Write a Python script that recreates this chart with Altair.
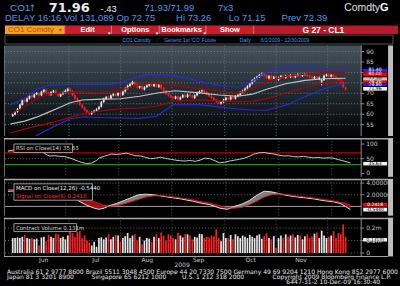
import altair as alt
import pandas as pd

# ---------------- data ----------------
opens = [59.2, 59.9, 61.1, 62.6, 64.4, 66.9, 66.1, 67.4, 68.9, 68.1,
         69.5, 70.2, 69.1, 70.7, 71.7, 70.3, 69.2, 70.6, 71.3, 69.9,
         68.6, 69.7, 70.3, 71.2, 72.1, 71.1, 69.1, 67.5, 66.1, 64.5,
         63.3, 61.9, 60.8, 60.1, 61.1, 61.5, 62.5, 63.6, 65.9, 67.3,
         68.3, 67.5, 69.0, 69.7, 68.9, 70.1, 69.2, 70.9, 72.3, 73.5,
         74.5, 75.5, 74.3, 72.7, 73.5, 71.9, 73.0, 73.7, 74.6, 73.5,
         74.4, 73.1, 74.0, 72.5, 71.3, 69.9, 69.0, 68.2, 67.5, 68.5,
         67.1, 68.1, 69.2, 68.2, 69.5, 68.9, 67.8, 69.1, 70.2, 71.0,
         71.5, 70.7, 69.6, 68.8, 67.9, 67.0, 66.0, 65.1, 65.9, 66.8,
         67.9, 67.1, 68.4, 67.5, 68.7, 69.1, 70.5, 71.1, 72.4, 73.3,
         74.7, 76.1, 77.2, 77.8, 78.9, 79.5, 78.7, 77.2, 78.3, 76.8,
         77.9, 76.5, 77.6, 78.4, 77.5, 78.5, 77.8, 78.8, 77.7, 78.6,
         79.2, 78.3, 79.0, 79.3, 78.4, 78.0, 77.1, 77.9, 76.8, 75.6,
         76.4, 78.5, 79.0, 78.1, 78.8, 78.0, 77.1, 76.5, 75.3, 72.75]
highs = [60.3, 61.5, 63.0, 65.0, 67.3, 67.4, 68.0, 69.3, 69.3, 69.9,
         70.6, 70.6, 71.2, 72.1, 72.2, 70.8, 71.0, 71.7, 71.8, 70.3,
         70.1, 70.9, 71.8, 72.6, 72.5, 71.6, 69.5, 68.0, 66.5, 65.0,
         63.7, 62.3, 61.3, 61.5, 62.1, 62.9, 64.0, 66.3, 67.9, 68.7,
         68.8, 69.4, 70.1, 70.2, 70.5, 70.6, 71.3, 72.9, 74.1, 74.9,
         76.0, 75.9, 74.7, 73.9, 73.9, 73.4, 74.3, 75.0, 75.0, 74.8,
         74.8, 74.4, 74.4, 72.9, 71.7, 70.3, 69.4, 68.6, 68.9, 68.9,
         68.5, 69.6, 69.6, 69.9, 69.9, 69.3, 69.5, 70.8, 71.4, 71.9,
         71.9, 71.1, 70.0, 69.2, 68.3, 67.4, 66.4, 66.3, 67.4, 68.3,
         68.3, 68.8, 68.8, 69.1, 69.7, 70.9, 71.7, 72.8, 73.9, 75.1,
         76.7, 77.6, 78.4, 79.3, 79.9, 79.9, 79.1, 78.7, 78.7, 78.3,
         78.3, 78.0, 78.8, 78.8, 78.9, 78.9, 79.2, 79.2, 79.0, 79.6,
         79.7, 79.4, 79.7, 79.7, 78.8, 78.4, 78.3, 78.3, 78.0, 76.8,
         78.9, 79.4, 79.4, 79.2, 79.2, 78.4, 77.5, 76.9, 75.7, 73.26]
lows = [58.7, 59.5, 60.7, 62.2, 64.0, 65.6, 65.7, 67.0, 67.7, 67.7,
        69.1, 68.5, 68.7, 70.3, 69.8, 68.8, 68.8, 70.1, 69.4, 68.2,
        68.2, 69.2, 69.9, 70.8, 70.7, 68.6, 66.9, 65.6, 64.1, 62.7,
        61.3, 60.4, 59.6, 59.7, 60.7, 61.1, 62.1, 63.2, 65.4, 66.8,
        67.1, 67.1, 68.5, 68.5, 68.5, 68.8, 68.8, 70.4, 71.8, 73.0,
        74.0, 73.7, 72.2, 72.2, 71.5, 71.4, 72.5, 73.2, 73.1, 73.0,
        72.7, 72.6, 71.9, 70.7, 69.3, 68.4, 67.6, 67.1, 67.1, 66.7,
        66.6, 67.6, 67.8, 67.8, 68.3, 67.4, 67.3, 68.6, 69.7, 70.5,
        70.1, 69.0, 68.2, 67.3, 66.4, 65.4, 64.7, 64.6, 65.4, 66.3,
        66.7, 66.6, 67.1, 67.0, 68.2, 68.6, 70.0, 70.6, 71.9, 72.8,
        74.2, 75.6, 76.7, 77.3, 78.4, 78.1, 76.8, 76.7, 76.4, 76.3,
        76.1, 76.0, 77.1, 77.1, 77.0, 77.4, 77.3, 77.3, 77.2, 78.1,
        77.9, 77.8, 78.5, 77.8, 77.4, 76.7, 76.6, 76.4, 76.3, 73.8,
        75.9, 78.0, 77.7, 77.6, 77.4, 76.5, 75.9, 74.7, 72.6, 71.15]
closes = [59.8, 61.0, 62.5, 64.5, 66.8, 66.0, 67.5, 68.8, 68.2, 69.4,
          70.1, 69.0, 70.8, 71.6, 70.2, 69.3, 70.5, 71.2, 69.8, 68.7,
          69.6, 70.4, 71.3, 72.0, 71.2, 69.0, 67.4, 66.0, 64.6, 63.2,
          61.8, 60.9, 60.2, 61.0, 61.6, 62.4, 63.5, 65.8, 67.4, 68.2,
          67.6, 68.9, 69.6, 69.0, 70.0, 69.3, 70.8, 72.4, 73.6, 74.4,
          75.4, 74.2, 72.8, 73.4, 72.0, 72.9, 73.8, 74.5, 73.6, 74.3,
          73.2, 73.9, 72.4, 71.2, 69.8, 68.9, 68.1, 67.6, 68.4, 67.2,
          68.0, 69.1, 68.3, 69.4, 68.8, 67.9, 69.0, 70.3, 70.9, 71.4,
          70.6, 69.5, 68.7, 67.8, 66.9, 65.9, 65.2, 65.8, 66.9, 67.8,
          67.2, 68.3, 67.6, 68.6, 69.2, 70.4, 71.2, 72.3, 73.4, 74.6,
          76.2, 77.1, 77.9, 78.8, 79.4, 78.6, 77.3, 78.2, 76.9, 77.8,
          76.6, 77.5, 78.3, 77.6, 78.4, 77.9, 78.7, 77.8, 78.5, 79.1,
          78.4, 78.9, 79.2, 78.3, 77.9, 77.2, 77.8, 76.9, 77.5, 76.3,
          78.4, 78.9, 78.2, 78.7, 77.9, 77.0, 76.4, 75.2, 73.1, 71.96]
volumes = [0.12, 0.12, 0.125, 0.12, 0.13, 0.145, 0.12, 0.115, 0.12, 0.11,
           0.115, 0.06, 0.125, 0.13, 0.095, 0.145, 0.13, 0.12, 0.155, 0.15,
           0.12, 0.13, 0.11, 0.14, 0.18, 0.16, 0.13, 0.17, 0.175, 0.12,
           0.14, 0.10, 0.085, 0.06, 0.09, 0.05, 0.12, 0.125, 0.11, 0.125,
           0.15, 0.11, 0.13, 0.145, 0.14, 0.09, 0.12, 0.135, 0.16, 0.12,
           0.14, 0.15, 0.10, 0.13, 0.07, 0.10, 0.12, 0.115, 0.09, 0.13,
           0.15, 0.12, 0.165, 0.14, 0.10, 0.15, 0.14, 0.12, 0.11, 0.16,
           0.14, 0.125, 0.15, 0.15, 0.14, 0.11, 0.13, 0.125, 0.155, 0.15,
           0.12, 0.13, 0.125, 0.14, 0.135, 0.19, 0.12, 0.095, 0.16, 0.12,
           0.12, 0.145, 0.11, 0.15, 0.135, 0.12, 0.14, 0.13, 0.12, 0.145,
           0.13, 0.12, 0.14, 0.15, 0.115, 0.135, 0.16, 0.12, 0.11, 0.135,
           0.04, 0.12, 0.14, 0.12, 0.15, 0.13, 0.14, 0.15, 0.125, 0.145,
           0.14, 0.11, 0.135, 0.15, 0.12, 0.13, 0.155, 0.165, 0.12, 0.18,
           0.14, 0.12, 0.13, 0.14, 0.175, 0.12, 0.16, 0.15, 0.23, 0.131]

white_idx = [-1, 5, 10, 15, 20, 24, 29, 37, 45, 53, 61, 68, 78, 86, 94, 100, 106, 114, 122, 130, 139]
white_val = [55.3, 56.7, 58.6, 61.0, 63.5, 65.5, 66.8, 67.2, 67.4, 68.6, 70.3, 71.2, 70.2, 69.2, 68.6, 69.6, 71.9, 74.6, 76.2, 77.0, 77.2]
redup_idx = [-1, 5, 10, 15, 24, 29, 35, 41, 45, 50, 55, 60, 66, 72, 78, 86, 94, 100, 106, 114, 122, 130, 139]
redup_val = [60.0, 63.5, 67.5, 69.6, 70.5, 70.7, 70.2, 70.8, 71.4, 73.2, 74.5, 75.0, 74.3, 73.0, 72.2, 71.2, 70.0, 72.2, 75.7, 78.1, 79.1, 80.0, 80.0]
redlo_idx = [-1, 5, 10, 17, 24, 30, 37, 45, 53, 60, 67, 78, 86, 94, 100, 106, 114, 122, 130, 139]
redlo_val = [51.0, 52.9, 54.3, 56.2, 58.5, 60.5, 61.6, 62.6, 63.0, 63.8, 66.2, 66.8, 66.4, 66.0, 66.2, 67.4, 70.2, 72.8, 75.0, 76.2]
blueup_idx = [-1, 5, 10, 15, 24, 30, 41, 45, 50, 55, 59, 67, 72, 78, 86, 94, 100, 106, 114, 122, 130, 139]
blueup_val = [64.5, 67.5, 71.9, 73.8, 74.2, 74.3, 74.3, 75.2, 77.2, 78.6, 79.2, 78.6, 77.5, 75.7, 73.8, 72.9, 75.7, 80.5, 82.9, 82.9, 81.4, 81.4]
bluelo_idx = [5, 10, 17, 24, 30, 37, 45, 53, 60, 67, 78, 86, 94, 100, 106, 114, 122, 130, 139]
bluelo_val = [46.0, 49.8, 54.0, 57.8, 58.8, 58.4, 58.2, 58.0, 59.0, 64.5, 64.6, 63.5, 62.5, 62.0, 61.9, 64.3, 68.4, 72.2, 74.8]

rsi_idx = [0, 2, 4, 6, 8, 10, 12, 14, 16, 17, 19, 21, 23, 24, 26, 28, 30, 32, 33, 34,
           36, 37, 39, 41, 42, 44, 46, 48, 49, 50, 52, 54, 56, 58, 60, 62, 64, 66, 68, 70,
           72, 74, 76, 78, 80, 82, 84, 86, 88, 90, 92, 94, 96, 98, 100, 102, 104, 106, 108, 110,
           112, 114, 116, 118, 120, 122, 124, 126, 128, 130, 132, 134, 136, 138, 139]
rsi_val = [76, 79, 78, 77, 76, 77, 76, 73, 62, 59, 60, 58, 57, 55, 50, 43, 37, 33, 34, 35,
           44, 52, 58, 63, 66, 64, 66, 69, 67, 64, 60, 59, 54, 50, 52, 55, 51, 48, 45, 43,
           42, 44, 41, 45, 52, 50, 43, 36, 38, 42, 45, 48, 52, 58, 66, 70, 71, 68, 66, 62,
           59, 60, 57, 56, 58, 55, 53, 54, 52, 53, 52, 47, 43, 38, 35.63]

macd_idx = [0, 5, 10, 15, 20, 24, 28, 32, 35, 37, 39, 41, 44, 47, 50, 53, 56, 59, 62, 65,
            70, 75, 78, 82, 86, 89, 92, 95, 98, 101, 104, 107, 110, 113, 116, 120, 124, 128, 132, 135,
            137, 139]
macd_val = [2.6, 2.7, 2.9, 2.7, 2.3, 1.9, 1.1, 0.2, -0.3, -0.5, -0.3, 0.1, 0.5, 1.0, 1.5, 2.0, 2.1, 2.0, 1.8, 1.6,
            1.3, 0.9, 0.6, 0.3, -0.3, -0.5, 0.0, 0.4, 1.0, 1.9, 2.6, 2.5, 2.2, 1.9, 1.7, 1.5, 1.3, 1.0, 0.8, 0.5,
            0.0, -0.544]
signal_val = [2.9, 2.85, 2.8, 2.8, 2.6, 2.3, 1.9, 1.3, 0.8, 0.5, 0.2, 0.0, 0.1, 0.4, 0.8, 1.2, 1.6, 1.8, 1.85, 1.75,
              1.45, 1.15, 0.85, 0.55, 0.1, -0.2, -0.3, -0.15, 0.3, 0.9, 1.6, 2.0, 2.15, 2.05, 1.85, 1.65, 1.45, 1.2, 0.95, 0.7,
              0.5, 0.2418]

month_bounds = [23.5, 45.0, 66.5, 88.5, 110.0, 131.5]
month_centers = [12.9, 34.7, 56.2, 77.6, 99.4, 120.4]
month_names = ["Jun", "Jul", "Aug", "Sep", "Oct", "Nov"]
price_ticks = [55, 60, 65, 70, 75, 80, 85, 90]
price_labels = ["55", "60", "65", "70", "75", "80", "85", "90"]
rsi_ticks = [0, 50, 100]
rsi_labels = ["0", "50", "100"]
rsi_levels = [70, 30]
macd_ticks = [2, 4]
macd_labels = ["2.00000", "4.00000"]
vol_ticks = [0, 0.1, 0.2]
vol_labels = ["0", "0.1m", "0.2m"]

# ---------------- style ----------------
FONT = "DejaVu Sans"
HFONT = "Liberation Sans"
LABEL = "#c8c8c8"
AXG = "#8c8c8c"
BLUE_TXT = "#4a98f0"
W = 363
xscale = alt.Scale(domain=[-3.23, 143.43], nice=False, zero=False)
one = alt.Data(values=[{"k": 1}])

cdf = pd.DataFrame({"i": list(range(len(closes))), "open": opens, "high": highs,
                    "low": lows, "close": closes, "vol": volumes})
cdf["dir"] = ["up" if c >= o else "down" for o, c in zip(opens, closes)]
dir_scale = alt.Scale(domain=["up", "down"], range=["#e6e6e6", "#ff1c1c"])


def xq(field="i"):
    return alt.X(f"{field}:Q", scale=xscale, axis=None)


def box(x0, x1, y0, y1, fill, stroke=None, sw=1):
    kw = dict(fill=fill)
    if stroke:
        kw.update(stroke=stroke, strokeWidth=sw)
    return alt.Chart(one).mark_rect(**kw).encode(
        x=alt.value(x0), x2=alt.value(x1), y=alt.value(y0), y2=alt.value(y1))


def label(txt, x, y, color, size, font=FONT, align="left", weight="normal"):
    return alt.Chart(one).mark_text(text=txt, align=align, baseline="middle", color=color,
                                    fontSize=size, font=font, fontWeight=weight).encode(
        x=alt.value(x), y=alt.value(y))


def right_axis(ticks, labels, yscale, h):
    df = pd.DataFrame({"v": ticks, "lab": labels})
    ticks_l = alt.Chart(df).mark_rule(color=AXG, strokeWidth=1).encode(
        y=alt.Y("v:Q", scale=yscale, axis=None), x=alt.value(363), x2=alt.value(366))
    labs = alt.Chart(df).mark_text(align="left", baseline="middle", color=LABEL, fontSize=6,
                                   font=FONT).encode(
        y=alt.Y("v:Q", scale=yscale, axis=None), x=alt.value(368), text="lab:N")
    return [box(362.5, 363.5, 0, h, AXG), ticks_l, labs]


def hrule(vals, yscale, color, dash=None, sw=1):
    kw = dict(color=color, strokeWidth=sw)
    if dash:
        kw["strokeDash"] = dash
    return alt.Chart(pd.DataFrame({"v": vals})).mark_rule(**kw).encode(
        y=alt.Y("v:Q", scale=yscale, axis=None), x=alt.value(5), x2=alt.value(W))


def vgrid(color="#555555"):
    return alt.Chart(pd.DataFrame({"i": month_bounds})).mark_rule(
        color=color, strokeDash=[1, 2], strokeWidth=1).encode(x=xq())


def chrome(h, sep=True):
    layers = [box(4, 5, 0, h, "#6e6e6e"), box(390, 395, 0, h, "#bdbdbd")]
    if sep:
        layers.append(box(4, 390, 0, 1.5, "#a8a8a8"))
    return layers


def vbox(y0, y1, fill, txt, tcolor):
    return [box(365, 389, y0, y1, fill), label(txt, 377, (y0 + y1) / 2, tcolor, 4.6, align="center")]


def line(idxs, vals, color, yscale, sw=1.1):
    df = pd.DataFrame({"i": idxs, "v": vals})
    return alt.Chart(df).mark_line(color=color, strokeWidth=sw, clip=True).encode(
        x=xq(), y=alt.Y("v:Q", scale=yscale, axis=None))


# ---------------- header ----------------
header = alt.layer(
    label("CO1", 10, 7.5, BLUE_TXT, 10, HFONT),
    label("↑", 29, 7.5, BLUE_TXT, 9),
    label("71.96", 49, 7.5, "#eeeeee", 13, FONT, weight="bold"),
    label("-.43", 101, 8, "#eeeeee", 9.5, HFONT),
    label("71.93/71.99", 145, 7.5, BLUE_TXT, 9.5, HFONT),
    label("7x3", 219, 7.5, BLUE_TXT, 9.5, HFONT),
    label("Comdty", 382, 7.5, "#e0e0e0", 10.5, HFONT, align="right"),
    label("G", 382, 7.5, "#ffffff", 11, HFONT, weight="bold"),
    label("DELAY 16:16 Vol 131,089 Op 72.75", 5, 17.5, BLUE_TXT, 9.5, HFONT),
    label("Hi 73.26", 177, 17.5, BLUE_TXT, 9.5, HFONT),
    label("Lo 71.15", 230, 17.5, BLUE_TXT, 9.5, HFONT),
    label("Prev 72.39", 283, 17.5, BLUE_TXT, 9.5, HFONT),
    box(5, 65, 25, 33.5, "#f3a21f"),
    box(65, 255, 25, 33.5, "#c91f2c"),
    box(255, 400, 25, 33.5, "#b71a29"),
    box(64.5, 65.5, 25, 33.5, "#e8707a"),
    box(111.5, 112.5, 25, 33.5, "#e8707a"),
    box(159.5, 160.5, 25, 33.5, "#e8707a"),
    box(206.5, 207.5, 25, 33.5, "#e8707a"),
    box(254.5, 255.5, 25, 33.5, "#e8707a"),
    label("CO1 Comdty", 8, 29.3, "#c4420e", 8, HFONT),
    label("▾", 59, 29.5, "#c4420e", 6),
    label("Edit", 88, 29.3, "#ffffff", 7.5, HFONT, align="center", weight="bold"),
    label("Options", 136, 29.3, "#ffffff", 7.5, HFONT, align="center", weight="bold"),
    label("Bookmarks", 182.5, 29.3, "#ffffff", 7.5, HFONT, align="center", weight="bold"),
    label("Show", 231, 29.3, "#ffffff", 7.5, HFONT, align="center", weight="bold"),
    label("G 27 - CL1", 325, 29.3, "#ffffff", 8.5, HFONT, align="center", weight="bold"),
    label("▾", 108.5, 32, "#ffffff", 5),
    label("▾", 156.5, 32, "#ffffff", 5),
    label("▾", 204.5, 32, "#ffffff", 5),
    box(5, 395, 34.5, 43.5, "#000000", stroke="#555555"),
    label("CO1 Comdty", 123, 39, BLUE_TXT, 5, HFONT),
    label(":", 157, 39, BLUE_TXT, 5, HFONT),
    label("Generic 1st 'CO' Future", 165, 39, BLUE_TXT, 5, HFONT),
    label("Daily", 241, 39, BLUE_TXT, 5, HFONT),
    label("6/1/2009 - 12/30/2009", 262, 39, BLUE_TXT, 5, HFONT),
).properties(width=400, height=44)

# ---------------- price panel ----------------
H1 = 91
pscale = alt.Scale(domain=[49.55, 92.88], nice=False, zero=False)
grad = alt.Gradient(gradient="linear",
                    stops=[alt.GradientStop(color="#46535d", offset=0),
                           alt.GradientStop(color="#1e272d", offset=0.55),
                           alt.GradientStop(color="#030405", offset=1)],
                    x1=0, x2=0, y1=0, y2=1)
bg = alt.Chart(one).mark_rect(fill=grad).encode(
    x=alt.value(5), x2=alt.value(W), y=alt.value(0), y2=alt.value(H1))
wicks = alt.Chart(cdf).mark_rule(strokeWidth=1).encode(
    x=xq(), y=alt.Y("low:Q", scale=pscale, axis=None), y2="high:Q",
    color=alt.Color("dir:N", scale=dir_scale, legend=None))
bodies = alt.Chart(cdf).mark_bar(width=1.8).encode(
    x=xq(), y=alt.Y("open:Q", scale=pscale, axis=None), y2="close:Q",
    color=alt.Color("dir:N", scale=dir_scale, legend=None))
price_layers = [bg, hrule(price_ticks, pscale, "#707a82", [1, 2]), vgrid("#66717a"), wicks, bodies,
                line(blueup_idx, blueup_val, "#2a2ad8", pscale),
                line(bluelo_idx, bluelo_val, "#2a2ad8", pscale),
                line(redup_idx, redup_val, "#b40000", pscale),
                line(redlo_idx, redlo_val, "#b40000", pscale),
                line(white_idx, white_val, "#c4c4c4", pscale)]
price_layers += chrome(H1, sep=False)
price_layers += right_axis(price_ticks, price_labels, pscale, H1)
price_layers += vbox(23.5, 26.5, "#1f1fff", f"{blueup_val[-1]:.2f}", "#ffffff")
price_layers += vbox(27, 31, "#ee0000", f"{redup_val[-1]:.2f}", "#ffffff")
price_layers += vbox(32, 35.3, "#c8c8c8", f"{white_val[-1]:.2f}", "#000000")
price_layers += vbox(35.5, 38, "#ee0000", f"{redlo_val[-1]:.2f}", "#ffffff")
price_layers += vbox(38.2, 40.5, "#1f1fff", f"{bluelo_val[-1]:.2f}", "#ffffff")
price_layers += vbox(41.7, 45.3, "#f2f2f2", f"{closes[-1]:.2f}", "#000000")
price = alt.layer(*price_layers).properties(width=W, height=H1)

# ---------------- RSI panel ----------------
H2 = 39
rscale = alt.Scale(domain=[-11.9, 120.3], nice=False, zero=False)
rdf = pd.DataFrame({"i": rsi_idx, "rsi": rsi_val})
rsi_fill = alt.Chart(rdf).transform_calculate(
    top="max(datum.rsi, 70)", base="70").mark_area(color="#c01010", opacity=0.85).encode(
    x=xq(), y=alt.Y("top:Q", scale=rscale, axis=None), y2="base:Q")
rsi_line = alt.Chart(rdf).mark_line(color="#c8c8c8", strokeWidth=1).encode(
    x=xq(), y=alt.Y("rsi:Q", scale=rscale, axis=None))
rsi_layers = [hrule([50], rscale, "#5f676d", [1, 2]), vgrid(),
              hrule(rsi_levels[:1], rscale, "#c00000", sw=1.3),
              hrule(rsi_levels[1:], rscale, "#00a000", sw=1.3),
              rsi_fill, rsi_line,
              box(14, 73, 6, 14.5, "#050505", stroke="#9a9a9a"),
              label(f"RSI on Close(14)  {rsi_val[-1]:.2f}", 16, 10.3, "#d0d0d0", 5.5)]
rsi_layers += chrome(H2)
rsi_layers += right_axis(rsi_ticks, rsi_labels, rscale, H2)
rsi_layers += vbox(24, 27.5, "#f2f2f2", f"{rsi_val[-1]:.2f}", "#000000")
rsi = alt.layer(*rsi_layers).properties(width=W, height=H2)

# ---------------- MACD panel ----------------
H3 = 37
mscale = alt.Scale(domain=[-1.59, 4.735], nice=False, zero=False)
mdf = pd.DataFrame({"i": macd_idx, "m": macd_val, "s": signal_val})
grey_fill = alt.Chart(mdf).transform_calculate(hi="max(datum.m, datum.s)").mark_area(
    color="#8c8c8c", opacity=0.9).encode(x=xq(), y=alt.Y("hi:Q", scale=mscale, axis=None), y2="s:Q")
red_fill = alt.Chart(mdf).transform_calculate(lo="min(datum.m, datum.s)").mark_area(
    color="#b01010", opacity=0.9).encode(x=xq(), y=alt.Y("lo:Q", scale=mscale, axis=None), y2="s:Q")
m_line = alt.Chart(mdf).mark_line(color="#e0e0e0", strokeWidth=1).encode(
    x=xq(), y=alt.Y("m:Q", scale=mscale, axis=None))
s_line = alt.Chart(mdf).mark_line(color="#e01010", strokeWidth=1).encode(
    x=xq(), y=alt.Y("s:Q", scale=mscale, axis=None))
macd_layers = [hrule(macd_ticks, mscale, "#5f676d", [1, 2]), vgrid(),
               hrule([0], mscale, "#a0a0a0"), grey_fill, red_fill, m_line, s_line,
               box(14, 93, 5, 21.5, "#050505", stroke="#9a9a9a"),
               label(f"MACD on Close(12,26)  {macd_val[-1]:.4f}", 16, 9.6, "#e8e8e8", 5.5),
               label(f"Signal on Close(9)  {signal_val[-1]:.4f}", 16, 17, "#ff2020", 5.5)]
macd_layers += chrome(H3)
macd_layers += right_axis(macd_ticks, macd_labels, mscale, H3)
macd_layers += vbox(24.3, 28, "#ee0000", f"{signal_val[-1]:.4f}", "#ffffff")
macd_layers += vbox(29, 32.8, "#f2f2f2", f"{macd_val[-1]:.4f}", "#000000")
macd = alt.layer(*macd_layers).properties(width=W, height=H3)

# ---------------- volume panel ----------------
H4 = 39
vscale = alt.Scale(domain=[-0.028, 0.284], nice=False, zero=False)
vbars = alt.Chart(cdf).transform_calculate(z="0").mark_bar(width=1.7).encode(
    x=xq(), y=alt.Y("vol:Q", scale=vscale, axis=None),
    y2="z:Q", color=alt.Color("dir:N", scale=dir_scale, legend=None))
month_text = alt.Chart(pd.DataFrame({"i": month_centers, "lab": month_names})).mark_text(
    align="center", baseline="middle", color=LABEL, fontSize=6, font=FONT).encode(
    x=xq(), y=alt.value(H4 + 3.2), text="lab:N")
vol_layers = [hrule(vol_ticks, vscale, "#5f676d", [1, 2]), vgrid(), vbars,
              box(14, 77, 6, 14, "#050505", stroke="#9a9a9a"),
              label(f"Contract Volume  {volumes[-1]:.3f}m", 16, 10.2, "#d0d0d0", 5.5)]
vol_layers += chrome(H4)
vol_layers += right_axis(vol_ticks, vol_labels, vscale, H4)
vol_layers += [box(4, 390, H4 - 0.5, H4 + 0.5, "#a0a0a0"), month_text,
               label("2009", 183, H4 + 8.6, LABEL, 6, align="center")]
vol_layers += vbox(20.5, 24, "#f2f2f2", f"{volumes[-1]:.3f}m", "#000000")
vol = alt.layer(*vol_layers).properties(width=W, height=H4)

# ---------------- footer ----------------
FC = "#e8e8e8"
footer = alt.layer(
    label("Australia 61 2 9777 8600 Brazil 5511 3048 4500 Europe 44 20 7330 7500 Germany 49 69 9204 1210 Hong Kong 852 2977 6000",
          7, 3.4, FC, 6.1),
    label("Japan 81 3 3201 8900", 7, 8.6, FC, 6.1),
    label("Singapore 65 6212 1000", 92, 8.6, FC, 6.1),
    label("U.S. 1 212 318 2000", 183, 8.6, FC, 6.1),
    label("Copyright 2009 Bloomberg Finance L.P.", 393, 8.6, FC, 6.1, align="right"),
    label("6447-31-2 10-Dec-09 16:30:40", 382, 14, FC, 6.1, align="right"),
).properties(width=400, height=24)

chart = alt.vconcat(header, price, rsi, macd, vol, footer, spacing=0).properties(
    background="#000000", padding=0
).configure_view(stroke=None).configure_concat(spacing=0)

chart.save("out.html", embed_options={"renderer": "svg", "actions": False})
